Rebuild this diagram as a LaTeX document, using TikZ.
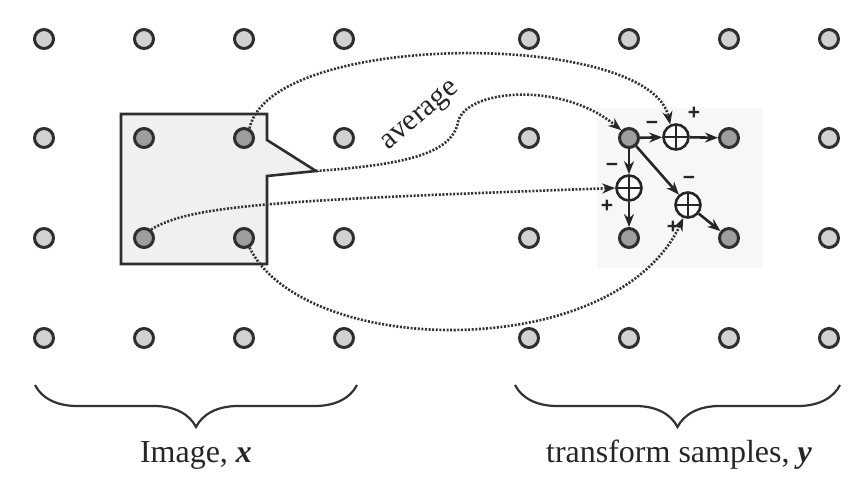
\documentclass[tikz,border=0pt]{standalone}
\usepackage{fontspec}
\setmainfont{Liberation Serif}
\newfontfamily\signfont{Liberation Sans}
\usetikzlibrary{arrows.meta,decorations.pathreplacing}
\begin{document}
\begin{tikzpicture}[x=1pt,y=-1pt,
  smp/.style={circle,draw=black!82,line width=3pt,minimum size=19pt,inner sep=0pt},
  adder/.style={circle,draw=black!85,line width=2.6pt,fill=white,minimum size=25pt,inner sep=0pt,
    path picture={\draw[line width=2.4pt,black!85] (path picture bounding box.north) -- (path picture bounding box.south) (path picture bounding box.west) -- (path picture bounding box.east);}},
  flow/.style={line width=2.6pt,black!85,-{Stealth[length=13pt,width=10pt]}},
  avg/.style={line width=2.6pt,black!80,dash pattern=on 2pt off 1.6pt,-{Stealth[length=13pt,width=10pt,color=black!85]}},
  sign/.style={font=\signfont\bfseries\fontsize{21}{21}\selectfont,inner sep=0pt,text=black!85},
  lbl/.style={font=\fontsize{32}{36}\selectfont,inner sep=0pt,text=black!85},
  brc/.style={decorate,decoration={brace,mirror,amplitude=42pt,aspect=0.5},line width=2.2pt,black!80}
]
\fill[white] (0,0) rectangle (866,492);
\useasboundingbox (0,0) rectangle (866,492);
% faint background on the right
\fill[black!3] (597,108) rectangle (762,268);
% window box
\draw[line width=2.6pt,draw=black!82,fill=black!6] (121,114) -- (267,114) -- (267,140) -- (316,171) coordinate (tip) -- (267,176) -- (267,264) -- (121,264) -- cycle;
% sample grids
\foreach \c/\x in {1/44,2/144,3/244,4/344}{
  \foreach \r/\y in {1/39,2/138,3/238,4/338}{
    \pgfmathtruncatemacro\inn{((\c==2)||(\c==3))&&((\r==2)||(\r==3))}
    \ifnum\inn=1 \def\f{black!38}\else\def\f{black!18}\fi
    \node[smp,fill=\f] (l-\c-\r) at (\x,\y) {};
  }}
\foreach \c/\x in {1/529,2/629,3/729,4/829}{
  \foreach \r/\y in {1/39,2/138,3/238,4/338}{
    \pgfmathtruncatemacro\inn{((\c==2)||(\c==3))&&((\r==2)||(\r==3))}
    \ifnum\inn=1 \def\f{black!38}\else\def\f{black!18}\fi
    \node[smp,fill=\f] (r-\c-\r) at (\x,\y) {};
  }}
% adders
\node[adder] (a1) at (676,137) {};
\node[adder] (a2) at (629,188) {};
\node[adder] (a3) at (688,205) {};
% dotted averaging paths
\draw[avg] (l-3-2.60) .. controls (270,30) and (650,30) .. (a1.115);
\draw[avg] (tip) .. controls (400,165) and (452,155) .. (458,122) .. controls (465,90) and (560,80) .. (r-2-2.north west);
\draw[avg] (l-2-3.50) .. controls (190,205) and (280,200) .. (a2.west);
\draw[avg] (l-3-3.-60) .. controls (275,300) and (360,330) .. (450,330) .. controls (560,330) and (650,290) .. (a3.250);
\node[lbl,font=\fontsize{30}{34}\selectfont,rotate=40] (avglab) at (421,117) {average};
% lifting arrows
\draw[flow] (r-2-2) -- (a1);
\draw[flow] (a1) -- (r-3-2);
\draw[flow] (r-2-2) -- (a2);
\draw[flow] (a2) -- (r-2-3);
\draw[flow] (r-2-2) -- (a3);
\draw[flow] (a3) -- (r-3-3);
% signs
\node[sign] (m1) at (652,125) {−};
\node[sign] (p1) at (694,113) {+};
\node[sign] (m2) at (612,167) {−};
\node[sign] (p2) at (607,206) {+};
\node[sign] (m3) at (689,180) {−};
\node[sign] (p3) at (673,227) {+};
% braces and labels
\coordinate (bl1) at (35,385);
\coordinate (bl2) at (357,385);
\coordinate (br1) at (515,385);
\coordinate (br2) at (840,385);
\draw[brc] (bl1) -- (bl2);
\draw[brc] (br1) -- (br2);
\node[lbl,anchor=base] (imglab) at (196,462) {Image, \textbf{\textit{x}}};
\node[lbl,anchor=base] (trlab) at (679,462) {transform samples, \textbf{\textit{y}}};
\end{tikzpicture}
\end{document}
